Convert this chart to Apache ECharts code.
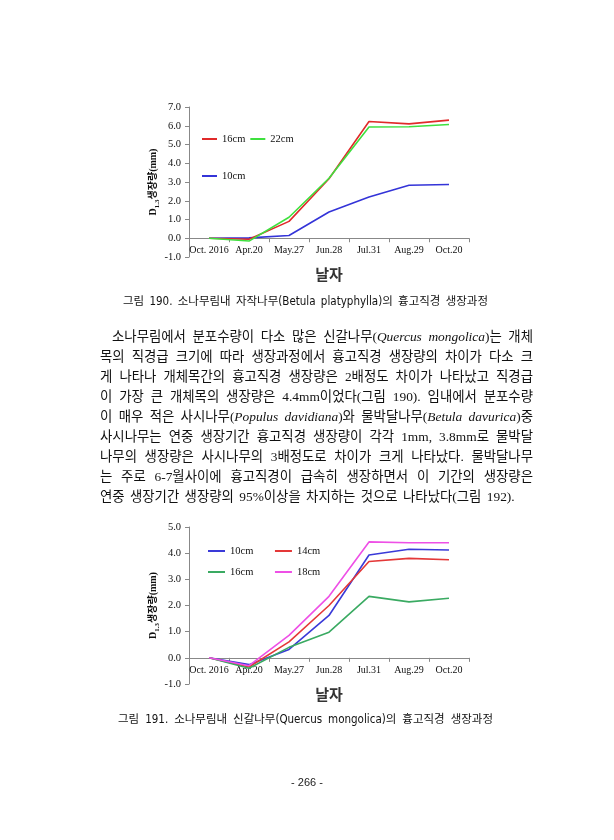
<!DOCTYPE html>
<html>
<head>
<meta charset="utf-8">
<script src="https://cdn.jsdelivr.net/npm/echarts@6/dist/echarts.min.js"></script>
<style>
html,body{margin:0;padding:0;background:#fff;}
#page{position:relative;width:614px;height:840px;overflow:hidden;background:#fff;}
#chart{position:absolute;left:0;top:0;width:614px;height:840px;}
.cap{position:absolute;font-family:"Liberation Sans Narrow","DejaVu Sans Condensed","Noto Sans CJK KR",sans-serif;font-size:11.5px;line-height:16px;color:#111;text-align:justify;text-align-last:justify;white-space:nowrap;}
.cap .k{font-family:"Noto Sans CJK KR",sans-serif;}
#body{position:absolute;left:100px;top:327px;width:433px;font-family:"Liberation Serif","Noto Sans CJK KR",serif;font-size:13.4px;line-height:20px;color:#111;}
#body div{text-align:justify;text-align-last:justify;height:20px;white-space:nowrap;}
#body div.last{text-align:left;text-align-last:left;}
#pno{position:absolute;left:0;top:774px;width:614px;text-align:center;font-family:"Liberation Sans","Noto Sans CJK KR",sans-serif;font-size:11px;line-height:16px;color:#222;}
</style>
</head>
<body>
<div id="page">
<div id="chart"></div>
<div class="cap" style="left:123px;top:292px;width:365px;"><span class="k">그림</span> 190. <span class="k">소나무림내</span> <span class="k">자작나무</span>(Betula platyphylla)<span class="k">의</span> <span class="k">흉고직경</span> <span class="k">생장과정</span></div>
<div id="body">
<div style="padding-left:12px;">소나무림에서 분포수량이 다소 많은 신갈나무(<i>Quercus mongolica</i>)는 개체</div>
<div>목의 직경급 크기에 따라 생장과정에서 흉고직경 생장량의 차이가 다소 크</div>
<div>게 나타나 개체목간의 흉고직경 생장량은 2배정도 차이가 나타났고 직경급</div>
<div>이 가장 큰 개체목의 생장량은 4.4mm이었다(그림 190). 임내에서 분포수량</div>
<div>이 매우 적은 사시나무(<i>Populus davidiana</i>)와 물박달나무(<i>Betula davurica</i>)중</div>
<div>사시나무는 연중 생장기간 흉고직경 생장량이 각각 1mm, 3.8mm로 물박달</div>
<div>나무의 생장량은 사시나무의 3배정도로 차이가 크게 나타났다. 물박달나무</div>
<div>는 주로 6-7월사이에 흉고직경이 급속히 생장하면서 이 기간의 생장량은</div>
<div class="last" style="word-spacing:2px;">연중 생장기간 생장량의 95%이상을 차지하는 것으로 나타났다(그림 192).</div>
</div>
<div class="cap" style="left:118px;top:710px;width:375px;"><span class="k">그림</span> 191. <span class="k">소나무림내</span> <span class="k">신갈나무</span>(Quercus mongolica)<span class="k">의</span> <span class="k">흉고직경</span> <span class="k">생장과정</span></div>
<div id="pno">- 266 -</div>
</div>
<script>
var categories = ['Oct. 2016', 'Apr.20', 'May.27', 'Jun.28', 'Jul.31', 'Aug.29', 'Oct.20'];
// Figure 190: Betula platyphylla
var birch10 = [0, 0.02, 0.15, 1.4, 2.2, 2.83, 2.87];
var birch16 = [0, -0.05, 0.9, 3.17, 6.23, 6.1, 6.3];
var birch22 = [0, -0.15, 1.12, 3.2, 5.93, 5.95, 6.07];
// Figure 191: Quercus mongolica
var oak10 = [0, -0.26, 0.32, 1.62, 3.93, 4.15, 4.12];
var oak14 = [0, -0.35, 0.61, 2.0, 3.68, 3.8, 3.75];
var oak16 = [0, -0.4, 0.4, 0.98, 2.35, 2.14, 2.28];
var oak18 = [0, -0.3, 0.86, 2.35, 4.43, 4.4, 4.4];
var yTicks1 = {min: -1, max: 7, interval: 1};
var yTicks2 = {min: -1, max: 5, interval: 1};

var SERIF = '"Liberation Serif","Noto Sans CJK KR",serif';
var axisCol = '#888';

function xAxisCfg(gi, labelMargin, nameGap) {
  return {
    type: 'category', gridIndex: gi, data: categories, boundaryGap: true,
    axisLine: {onZero: true, lineStyle: {color: axisCol, width: 1}},
    axisTick: {show: true, length: 4, lineStyle: {color: axisCol}},
    axisLabel: {interval: 0, margin: labelMargin, color: '#111', fontFamily: SERIF, fontSize: 10},
    name: '날자', nameLocation: 'middle', nameGap: nameGap,
    nameTextStyle: {fontFamily: SERIF, fontSize: 15, fontWeight: 'bold', color: '#333'}
  };
}
function yAxisCfg(gi, t) {
  return {
    type: 'value', gridIndex: gi, min: t.min, max: t.max, interval: t.interval,
    splitLine: {show: false},
    axisLine: {show: true, lineStyle: {color: axisCol, width: 1}},
    axisTick: {show: true, length: 4, lineStyle: {color: axisCol}},
    axisLabel: {margin: 8, color: '#111', fontFamily: SERIF, fontSize: 10.5,
      formatter: function (v) { return v.toFixed(1); }},
    name: '{a|D}{b|1.3}{c|생장량(mm)}', nameLocation: 'middle', nameRotate: 90, nameGap: 28,
    nameTextStyle: {
      color: '#111',
      rich: {
        a: {fontFamily: SERIF, fontSize: 10, fontWeight: 'bold', lineHeight: 14, verticalAlign: 'middle'},
        b: {fontFamily: SERIF, fontSize: 7, fontWeight: 'bold', lineHeight: 14, verticalAlign: 'bottom'},
        c: {fontFamily: SERIF, fontSize: 10, fontWeight: 'bold', lineHeight: 14, verticalAlign: 'middle'}
      }
    }
  };
}
function lineS(name, data, color, gi) {
  return {
    name: name, type: 'line', data: data, xAxisIndex: gi, yAxisIndex: gi,
    symbol: 'none', smooth: false, lineStyle: {color: color, width: 1.6}, itemStyle: {color: color},
    emphasis: {disabled: true}
  };
}
function legendCfg(names, left, top, w, gap) {
  return {
    data: names, left: left, top: top, orient: 'horizontal', icon: 'rect',
    itemWidth: w, itemHeight: 2, itemGap: gap, padding: 0,
    textStyle: {fontFamily: SERIF, fontSize: 10.5, color: '#111', lineHeight: 12}
  };
}

var chart = echarts.init(document.getElementById('chart'), null, {renderer: 'canvas'});
chart.setOption({
  animation: false,
  backgroundColor: 'transparent',
  grid: [
    {left: 189, top: 107, width: 280, height: 150, containLabel: false},
    {left: 189, top: 527, width: 280, height: 157, containLabel: false}
  ],
  xAxis: [xAxisCfg(0, -12, 12), xAxisCfg(1, -19, 5)],
  yAxis: [yAxisCfg(0, yTicks1), yAxisCfg(1, yTicks2)],
  legend: [
    legendCfg(['16cm', '22cm'], 202, 133, 15, 5),
    legendCfg(['10cm'], 202, 170, 15, 5),
    legendCfg(['10cm ', '14cm'], 208, 545, 17, 19),
    legendCfg(['16cm ', '18cm'], 208, 566, 17, 19)
  ],
  series: [
    lineS('10cm', birch10, '#3434d8', 0),
    lineS('16cm', birch16, '#e02a2a', 0),
    lineS('22cm', birch22, '#3ee03e', 0),
    lineS('10cm ', oak10, '#3a3ad8', 1),
    lineS('14cm', oak14, '#e43838', 1),
    lineS('16cm ', oak16, '#3aaa62', 1),
    lineS('18cm', oak18, '#ee50e6', 1)
  ]
});
</script>
</body>
</html>
